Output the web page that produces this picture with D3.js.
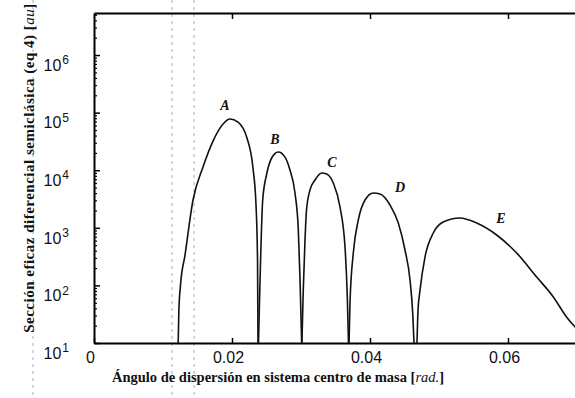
<!DOCTYPE html>
<html>
<head>
<meta charset="utf-8">
<script src="https://cdn.jsdelivr.net/npm/d3@7"></script>
<style>
  body { margin: 0; background: #fff; }
  svg { display: block; }
</style>
</head>
<body>
<div id="chart"></div>
<script>
// lobes of the semiclassical cross section: [angle (rad), value (au)]
const lobeA = [[0.0122, 10], [0.0123, 37], [0.01254, 102], [0.01319, 337], [0.01435, 3040],
  [0.0158, 11400], [0.01725, 32100], [0.0187, 63400], [0.01971, 77400], [0.02087, 68700],
  [0.02217, 36200], [0.02304, 10900], [0.02348, 2490], [0.0237, 276], [0.02377, 10]];
const lobeB = [[0.02384, 10], [0.02399, 56], [0.02413, 245], [0.02445, 3040], [0.02503, 8590],
  [0.02575, 16300], [0.02671, 20700], [0.02768, 16900], [0.0284, 10070], [0.02913, 4020],
  [0.02961, 921], [0.02986, 124], [0.0301, 10]];
const lobeC = [[0.03013, 10], [0.03033, 83], [0.03058, 614], [0.0308, 2040], [0.0313, 4530],
  [0.03203, 6760], [0.033, 8940], [0.03372, 8590], [0.03468, 6000], [0.03565, 2300],
  [0.03638, 464], [0.03671, 63], [0.03688, 10]];
const lobeD = [[0.03696, 10], [0.0371, 49.5], [0.03758, 365], [0.0383, 1365], [0.03928, 3040],
  [0.04048, 4020], [0.04145, 3860], [0.0429, 2490], [0.0441, 1210], [0.04507, 412],
  [0.0458, 124], [0.04619, 33], [0.04638, 10]];
const lobeE = [[0.04681, 10], [0.04696, 37], [0.04725, 83], [0.04797, 311], [0.04917, 813],
  [0.05062, 1262], [0.05304, 1480], [0.05546, 1210], [0.05836, 750], [0.06126, 365],
  [0.06416, 140], [0.06657, 63], [0.06851, 28], [0.07, 17.5]];

const lobeNames = ["A", "B", "C", "D", "E"];
const labelAngles = [0.01899, 0.02623, 0.03449, 0.04435, 0.05899];
const labelValues = [136000, 34800, 13900, 5100, 1480];

const xTicks = [0, 0.02, 0.04, 0.06];
const xTickLabels = ["0", "0.02", "0.04", "0.06"];
const yTicks = [10, 100, 1000, 10000, 100000, 1000000];
const yExponents = ["1", "2", "3", "4", "5", "6"];

const width = 575, height = 398;
const margin = {top: 13, right: -2, bottom: 55, left: 94};

const svg = d3.select("#chart").append("svg")
  .attr("width", width)
  .attr("height", height);

const x = d3.scaleLinear()
  .domain([0, 0.07])
  .range([margin.left, width - margin.right]);

const y = d3.scaleLog()
  .domain([10, Math.pow(10, 6.73)])
  .range([height - margin.bottom, margin.top]);

// minor log ticks
const yMinor = [];
for (let e = 1; e <= 6; e++) {
  for (let m = 2; m <= 9; m++) {
    const v = m * Math.pow(10, e);
    if (v < y.domain()[1]) yMinor.push(v);
  }
}

// scan artefacts (dashed vertical streaks)
const streaks = [33, 172, 194];
svg.append("g").selectAll("line")
  .data(streaks)
  .join("line")
    .attr("x1", d => d).attr("x2", d => d)
    .attr("y1", 0)
    .attr("y2", height)
    .attr("stroke", "#aaa")
    .attr("stroke-width", 1)
    .attr("stroke-dasharray", "3,4");

// left axis minor ticks
svg.append("g")
  .attr("transform", `translate(${margin.left},0)`)
  .call(d3.axisLeft(y).tickValues(yMinor).tickSize(-3).tickSizeOuter(0).tickFormat(""))
  .call(g => g.select(".domain").remove())
  .call(g => g.selectAll("line").attr("stroke-width", 1.2));

// left axis major ticks + labels
const yAxis = svg.append("g")
  .attr("transform", `translate(${margin.left},0)`)
  .call(d3.axisLeft(y).tickValues(yTicks).tickSize(-6).tickSizeOuter(0).tickPadding(25).tickFormat(""));
yAxis.select(".domain").attr("stroke-width", 2);
yAxis.selectAll(".tick line").attr("stroke-width", 1.5);
yAxis.selectAll(".tick text")
  .attr("dy", "0.95em")
  .style("font-family", "'Liberation Sans', Arial, sans-serif")
  .style("font-size", "16px")
  .attr("fill", "#111")
  .each(function(d, i) {
    const t = d3.select(this);
    t.append("tspan").text("10");
    t.append("tspan").attr("dx", "1").attr("dy", "-0.55em").style("font-size", "12px").text(yExponents[i]);
  });

// bottom axis
const xAxis = svg.append("g")
  .attr("transform", `translate(0,${height - margin.bottom})`)
  .call(d3.axisBottom(x).tickValues(xTicks).tickSize(-5).tickSizeOuter(0).tickPadding(9)
    .tickFormat((d, i) => xTickLabels[i]));
xAxis.select(".domain").attr("stroke-width", 2);
xAxis.selectAll(".tick line").attr("stroke-width", 1.5);
xAxis.selectAll(".tick text")
  .attr("dx", "-4")
  .style("font-family", "'Liberation Sans', Arial, sans-serif")
  .style("font-size", "16px")
  .attr("fill", "#111");

// top axis (frame)
const topAxis = svg.append("g")
  .attr("transform", `translate(0,${margin.top})`)
  .call(d3.axisTop(x).tickValues(xTicks.slice(1)).tickSize(-6).tickSizeOuter(0).tickFormat(""));
topAxis.select(".domain").attr("stroke-width", 2);
topAxis.selectAll(".tick line").attr("stroke-width", 1.5);

// clip
svg.append("defs").append("clipPath")
  .attr("id", "clip")
  .append("rect")
    .attr("x", margin.left)
    .attr("y", margin.top)
    .attr("width", width - margin.left - margin.right)
    .attr("height", height - margin.top - margin.bottom);

const line = d3.line()
  .x(d => x(d[0]))
  .y(d => y(d[1]))
  .curve(d3.curveMonotoneX);

svg.append("g")
  .attr("clip-path", "url(#clip)")
  .selectAll("path")
  .data([lobeA, lobeB, lobeC, lobeD, lobeE])
  .join("path")
    .attr("fill", "none")
    .attr("stroke", "#111")
    .attr("stroke-width", 1.6)
    .attr("d", line);

// lobe labels
svg.append("g").selectAll("text")
  .data(lobeNames)
  .join("text")
    .attr("x", (d, i) => x(labelAngles[i]))
    .attr("y", (d, i) => y(labelValues[i]))
    .attr("dy", "0.35em")
    .attr("text-anchor", "middle")
    .style("font-family", "'Liberation Serif', serif")
    .style("font-style", "italic")
    .style("font-weight", "bold")
    .style("font-size", "14px")
    .attr("fill", "#111")
    .text(d => d);

// axis titles
const xTitle = svg.append("text")
  .attr("x", 278)
  .attr("y", 382)
  .attr("text-anchor", "middle")
  .style("font-family", "'Liberation Serif', serif")
  .style("font-weight", "bold")
  .style("font-size", "14.5px")
  .attr("fill", "#111");
xTitle.append("tspan").text("Ángulo de dispersión en sistema centro de masa [");
xTitle.append("tspan").style("font-style", "italic").style("font-weight", "normal").text("rad.");
xTitle.append("tspan").text("]");

const yTitle = svg.append("text")
  .attr("transform", "translate(34,168) rotate(-90)")
  .attr("text-anchor", "middle")
  .style("font-family", "'Liberation Serif', serif")
  .style("font-weight", "bold")
  .style("font-size", "15px")
  .style("letter-spacing", "0.5px")
  .attr("fill", "#111");
yTitle.append("tspan").text("Sección eficaz diferencial semiclásica (eq 4) [");
yTitle.append("tspan").style("font-style", "italic").style("font-weight", "normal").text("au");
yTitle.append("tspan").text("]");
</script>
</body>
</html>
